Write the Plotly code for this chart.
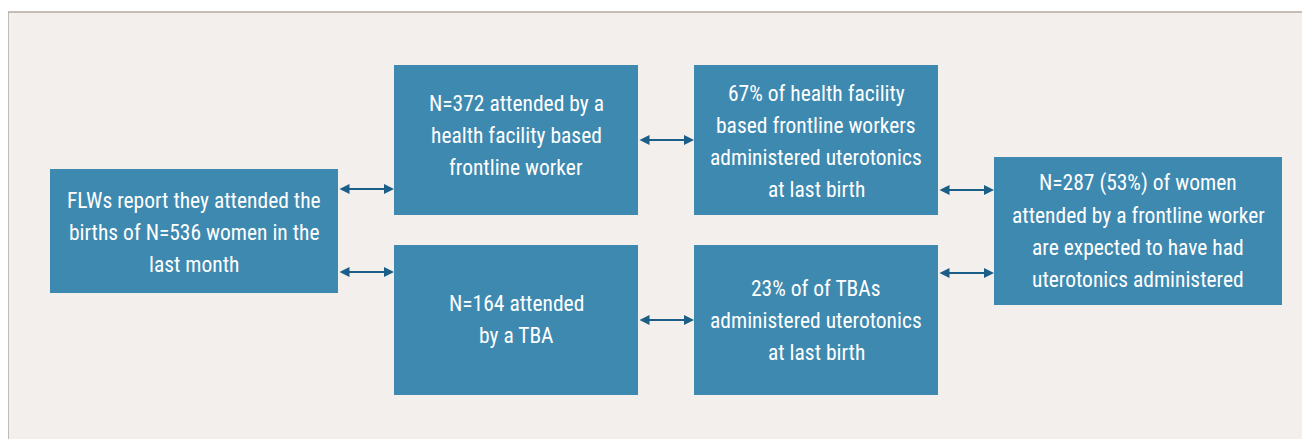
import plotly.graph_objects as go

# ---- data ----
box_ids = ["flw", "hf", "tba", "hf_ut", "tba_ut", "total"]
box_texts = [
    ["FLWs report they attended the", "births of N=536 women in the", "last month"],
    ["N=372 attended by a", "health facility based", "frontline worker"],
    ["N=164 attended", "by a TBA"],
    ["67% of health facility", "based frontline workers", "administered uterotonics", "at last birth"],
    ["23% of of TBAs", "administered uterotonics", "at last birth"],
    ["N=287 (53%) of women", "attended by a frontline worker", "are expected to have had", "uterotonics administered"],
]
links = [("flw", "hf"), ("flw", "tba"), ("hf", "hf_ut"), ("tba", "tba_ut"), ("hf_ut", "total"), ("tba_ut", "total")]

# ---- layout (pixel geometry) ----
W, H = 1310, 439
OFF = 8  # page body margin
box_geom = {  # x0, x1, y0, y1
    "flw": (50, 338, 169, 293),
    "hf": (394, 638, 65, 215),
    "tba": (394, 638, 245, 395),
    "hf_ut": (694, 938, 65, 215),
    "tba_ut": (694, 938, 245, 395),
    "total": (994, 1282, 157, 305),
}
link_y = [189, 272, 140, 320, 190, 273]
text_offset = {"flw": 1, "hf": -5, "tba": -1, "hf_ut": 1, "tba_ut": 0, "total": 0}

BOX = "#3e89af"
ARROW = "#1b5f88"
PANEL = "#f3efec"
BORDER = "#b3aaa0"
FONT = "Liberation Sans Narrow, Roboto Condensed, Roboto, sans-serif"
FS = 21.5
LH = 32

fig = go.Figure()
shapes = []
annotations = []

# panel
shapes.append(dict(type="rect", x0=8, x1=W + 40, y0=12, y1=H + 40, fillcolor=PANEL,
                   line=dict(color=BORDER, width=1.5), layer="below"))

for bid, lines in zip(box_ids, box_texts):
    x0, x1, y0, y1 = box_geom[bid]
    shapes.append(dict(type="rect", x0=x0, x1=x1, y0=y0, y1=y1, fillcolor=BOX,
                       line=dict(width=0), layer="below"))
    cx = (x0 + x1) / 2
    cy = (y0 + y1) / 2 + text_offset[bid]
    n = len(lines)
    for i, t in enumerate(lines):
        annotations.append(dict(x=cx, y=cy + (i - (n - 1) / 2) * LH, text=t, showarrow=False,
                                xref="x", yref="y", xanchor="center", yanchor="middle",
                                font=dict(family=FONT, size=FS, color="white")))

for (a, b), y in zip(links, link_y):
    xa = box_geom[a][1]
    xb = box_geom[b][0]
    annotations.append(dict(x=xb, y=y, ax=xa, ay=y, xref="x", yref="y", axref="x", ayref="y",
                            text="", showarrow=True, arrowhead=2, startarrowhead=2,
                            arrowside="end+start", arrowsize=1.0, arrowwidth=2,
                            arrowcolor=ARROW, standoff=0, startstandoff=0))

fig.update_layout(
    width=W, height=H, margin=dict(l=0, r=0, t=0, b=0),
    paper_bgcolor="white", plot_bgcolor="white",
    xaxis=dict(range=[OFF, W + OFF], visible=False, fixedrange=True),
    yaxis=dict(range=[H + OFF, OFF], visible=False, fixedrange=True),
    shapes=shapes, annotations=annotations, showlegend=False,
)
fig.write_html("out.html")
